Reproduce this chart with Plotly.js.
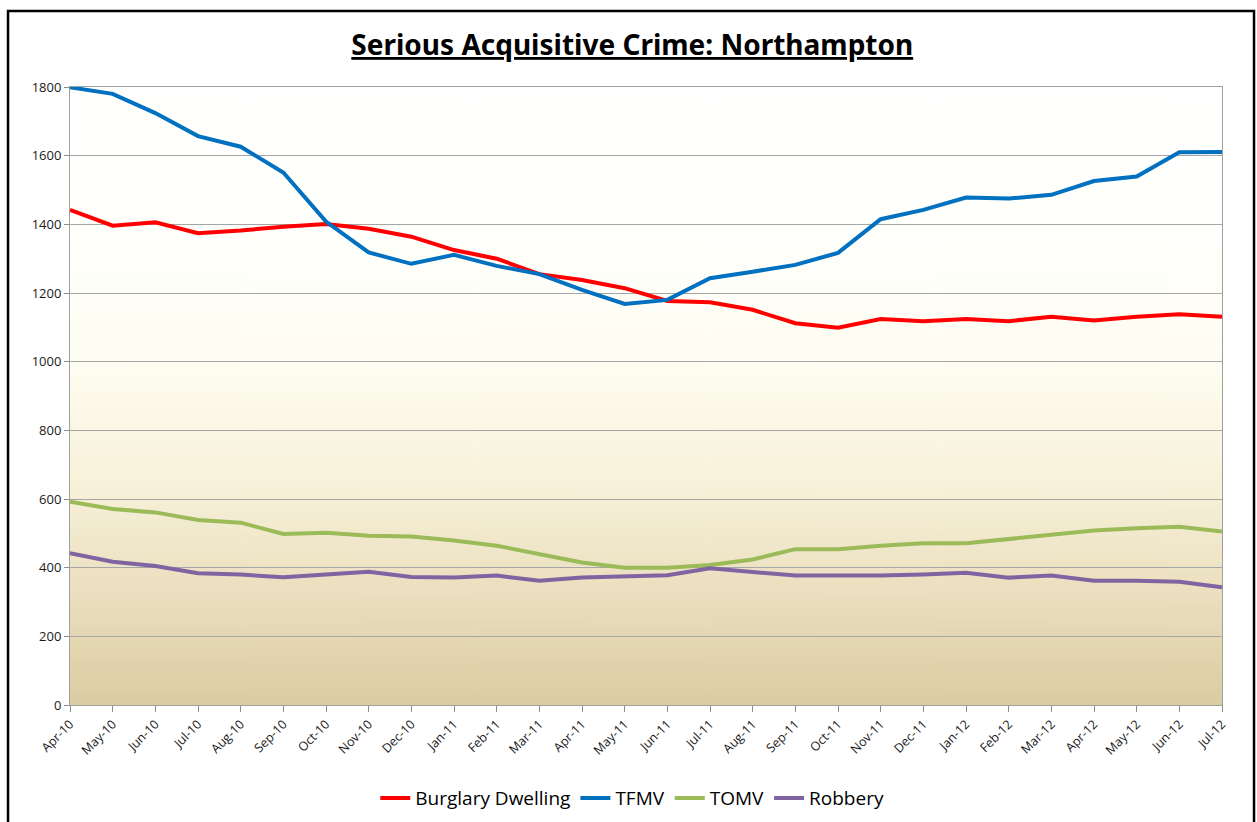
<!DOCTYPE html>
<html>
<head>
<meta charset="utf-8">
<script src="https://cdn.plot.ly/plotly-3.0.1.min.js"></script>
<style>html,body{margin:0;padding:0;background:#fff;}#chart{width:1257px;height:822px;}</style>
</head>
<body>
<div id="chart"></div>
<script>
const months = ["Apr-10","May-10","Jun-10","Jul-10","Aug-10","Sep-10","Oct-10","Nov-10","Dec-10",
  "Jan-11","Feb-11","Mar-11","Apr-11","May-11","Jun-11","Jul-11","Aug-11","Sep-11","Oct-11","Nov-11","Dec-11",
  "Jan-12","Feb-12","Mar-12","Apr-12","May-12","Jun-12","Jul-12"];
const burglaryDwelling = [1442,1396,1406,1374,1382,1393,1401,1387,1364,1325,1300,1255,1238,1214,1177,1173,1151,1112,1099,1124,1118,1124,1118,1131,1120,1131,1138,1131];
const tfmv = [1799,1780,1724,1657,1626,1551,1408,1318,1285,1311,1279,1255,1209,1168,1180,1243,1262,1282,1317,1415,1442,1478,1475,1486,1526,1539,1610,1611];
const tomv = [592,571,561,539,531,498,502,493,491,479,464,440,415,400,400,408,424,454,454,464,471,471,483,497,508,515,519,505];
const robbery = [442,417,405,384,380,372,380,388,373,371,377,362,371,374,378,398,388,377,377,377,380,385,371,377,362,362,359,343];
const seriesNames = ["Burglary Dwelling","TFMV","TOMV","Robbery"];
const seriesColors = ["#FF0000","#0070C0","#9BBB59","#8064A2"];
const seriesData = [burglaryDwelling, tfmv, tomv, robbery];

// gradient background image for plot area
const cv = document.createElement('canvas');
cv.width = 10; cv.height = 400;
const ctx = cv.getContext('2d');
const g = ctx.createLinearGradient(0,0,0,400);
g.addColorStop(0,'#FFFFFF');
g.addColorStop(0.3,'#FFFFFA');
g.addColorStop(0.45,'#FEFDF1');
g.addColorStop(0.65,'#F8F1D9');
g.addColorStop(1,'#DBCCA2');
ctx.fillStyle = g; ctx.fillRect(0,0,10,400);
const bg = cv.toDataURL('image/png');

const font = "Open Sans, Liberation Sans, sans-serif";
const traces = seriesData.map((d,i)=>({
  type:'scatter', mode:'lines', name:seriesNames[i], x:months, y:d,
  line:{color:seriesColors[i], width:4}
}));

const layout = {
  width:1257, height:822,
  margin:{l:70, r:35, t:87, b:117},
  paper_bgcolor:'#FFFFFF', plot_bgcolor:'rgba(0,0,0,0)',
  title:{text:'<u>Serious Acquisitive Crime: Northampton</u>', x:0.503, xanchor:'center', y:0.945, yanchor:'middle',
    font:{family:"Noto Sans, sans-serif", size:28, color:'#000', weight:'bold'}},
  showlegend:true,
  legend:{orientation:'h', x:0.503, xanchor:'center', xref:'container', yref:'container', y:0.029, yanchor:'middle',
    font:{family:font, size:19, color:'#000'}, itemwidth:30, tracegroupgap:0},
  xaxis:{type:'category', range:[0,27], automargin:false, showgrid:false, showline:true, linecolor:'#A0A0A0', linewidth:1,
    ticks:'outside', ticklen:6, tickcolor:'#8C8C8C', tickangle:-45,
    tickfont:{family:font, size:12.5, color:'#1A1A1A'}, mirror:true, zeroline:false},
  yaxis:{range:[0,1800], dtick:200, automargin:false, showgrid:true, gridcolor:'#A6A6A6', gridwidth:1,
    showline:true, linecolor:'#A0A0A0', linewidth:1, ticks:'outside', ticklen:5, tickcolor:'#8C8C8C',
    tickfont:{family:font, size:13, color:'#1A1A1A'}, mirror:true, zeroline:false},
  images:[{source:bg, xref:'paper', yref:'paper', x:0, y:1, sizex:1, sizey:1, sizing:'stretch', layer:'below', xanchor:'left', yanchor:'top'}],
  shapes:[{type:'rect', xref:'paper', yref:'paper', x0:-0.0538, x1:1.0278, y0:-0.25, y1:1.123, line:{color:'#000', width:2.5}, fillcolor:'rgba(0,0,0,0)'}]
};
Plotly.newPlot('chart', traces, layout, {displayModeBar:false, staticPlot:true});
</script>
</body>
</html>
